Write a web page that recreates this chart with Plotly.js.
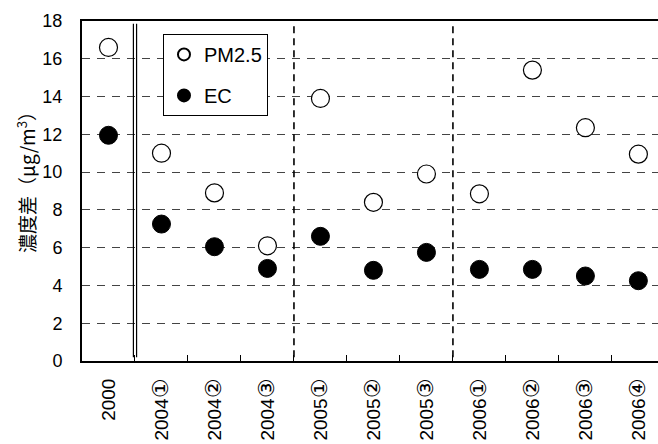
<!DOCTYPE html>
<html>
<head>
<meta charset="utf-8">
<script src="https://cdn.plot.ly/plotly-3.0.1.min.js"></script>
<style>html,body{margin:0;padding:0;background:#fff;}#chart{width:658px;height:444px;}</style>
</head>
<body>
<div id="chart"></div>
<script>
const categories = ["2000","2004①","2004②","2004③","2005①","2005②","2005③","2006①","2006②","2006③","2006④"];
const pm25 = [16.6, 11.0, 8.9, 6.1, 13.9, 8.4, 9.9, 8.85, 15.4, 12.35, 10.95];
const ec = [11.95, 7.25, 6.05, 4.9, 6.6, 4.8, 5.75, 4.85, 4.85, 4.5, 4.25];
const yTicks = [0, 2, 4, 6, 8, 10, 12, 14, 16, 18];
const yTitle = "濃度差（μg/m<sup>3</sup>）";

const FONT = "Liberation Sans, Noto Sans CJK JP, sans-serif";
const CJK = "Noto Sans CJK JP";

// tick text: render circled digits larger, with a CJK font
const tickText = categories.map(c => c.replace(/([①-⑳])/g,
  "<span style=\"font-family:'DejaVu Sans';font-size:22px\">$1</span>"));

const traces = [
  {
    type: "scatter", mode: "markers", name: "PM2.5", x: categories, y: pm25,
    legendgroup: "a",
    marker: {symbol: "circle", size: 18, color: "#ffffff", line: {color: "#000000", width: 1.2}},
    cliponaxis: false
  },
  {
    type: "scatter", mode: "markers", name: "EC", x: categories, y: ec,
    legendgroup: "b",
    marker: {symbol: "circle", size: 18, color: "#000000", line: {color: "#000000", width: 1}},
    cliponaxis: false
  }
];

const vline = (x, dash, w) => ({
  type: "line", xref: "x", yref: "y", x0: x, x1: x, y0: 0.2, y1: 17.85,
  line: {color: "#000000", width: w, dash: dash}
});

const layout = {
  width: 658, height: 444,
  margin: {l: 82, r: 0, t: 21, b: 83, pad: 0},
  paper_bgcolor: "#ffffff", plot_bgcolor: "#ffffff",
  font: {family: FONT, size: 17, color: "#000000"},
  showlegend: true,
  legend: {
    x: 0.1406, y: 0.962, xanchor: "left", yanchor: "top",
    bgcolor: "#ffffff", bordercolor: "#000000", borderwidth: 1,
    font: {family: FONT, size: 20, color: "#000000"},
    itemsizing: "constant", tracegroupgap: 12
  },
  xaxis: {
    type: "category", range: [-0.5, 10.37],
    tickmode: "array", tickvals: categories, ticktext: tickText,
    tickangle: -90, tickson: "boundaries", ticks: "inside", ticklen: 6, tickwidth: 1, tickcolor: "#000000",
    ticklabelstandoff: 8,
    showline: true, linecolor: "#000000", linewidth: 2, mirror: true,
    showgrid: false, zeroline: false,
    tickfont: {family: FONT, size: 19, color: "#000000"},
    automargin: false
  },
  yaxis: {
    range: [0, 18], tickmode: "array", tickvals: yTicks, ticktext: yTicks.map(String),
    ticks: "", showline: true, linecolor: "#000000", linewidth: 2,
    showgrid: true, gridcolor: "#444444", gridwidth: 1, griddash: "8px,7px",
    zeroline: false, ticklabelstandoff: 14,
    tickfont: {family: FONT, size: 18, color: "#000000"},
    automargin: false
  },
  annotations: [{
    text: yTitle, xref: "paper", yref: "paper",
    x: (26 - 82) / 576, y: (361 - 178) / 340, xanchor: "center", yanchor: "middle",
    textangle: -90, showarrow: false,
    font: {family: CJK, size: 19, color: "#000000"}
  }],
  shapes: [
    vline(0.47, "solid", 1.2),
    vline(0.53, "solid", 1.2),
    vline(3.5, "7px,5px", 1.6),
    vline(6.5, "7px,5px", 1.6)
  ]
};

Plotly.newPlot("chart", traces, layout, {displayModeBar: false, staticPlot: true});
</script>
</body>
</html>
